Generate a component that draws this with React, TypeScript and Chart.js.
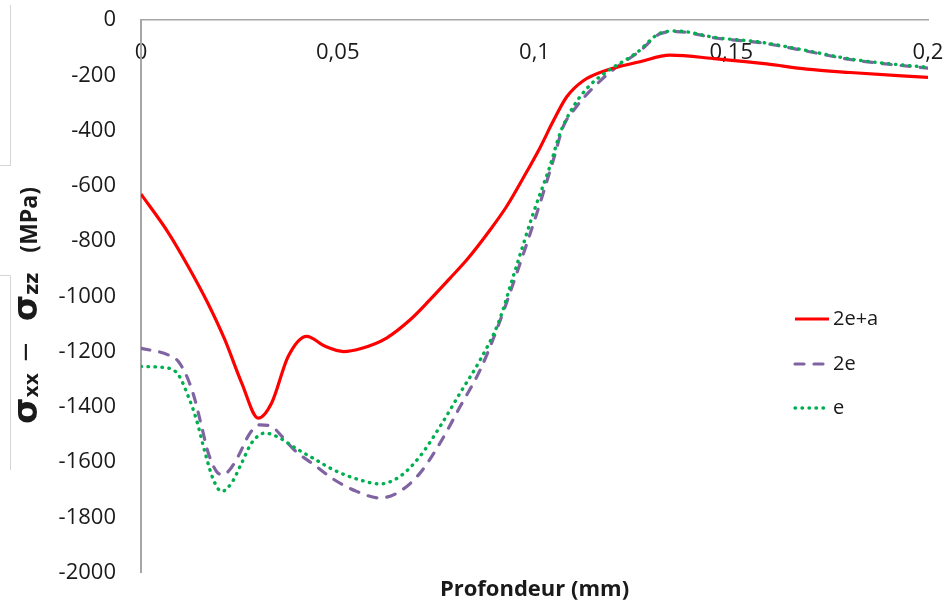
import React, { useEffect, useRef } from 'react';
import { Chart, registerables } from 'chart.js';

Chart.register(...registerables);

// ---- Data ----
const seriesNames = ['2e+a', '2e', 'e'];

const depth2ea = [0, 0.007, 0.012, 0.017, 0.0213, 0.0256, 0.0298, 0.0332, 0.0374, 0.0421, 0.0468, 0.0515, 0.0557, 0.0624, 0.0684, 0.0734, 0.0785, 0.0828, 0.0887, 0.0929, 0.0972, 0.1014, 0.1048, 0.1082, 0.1124, 0.1183, 0.1268, 0.1344, 0.1463, 0.159, 0.1692, 0.1802, 0.2];
const stress2ea = [-630, -771, -892, -1025, -1157, -1314, -1441, -1386, -1218, -1145, -1181, -1200, -1190, -1151, -1085, -1013, -935, -868, -760, -675, -570, -462, -365, -278, -220, -182, -151, -127, -141, -159, -178, -190, -208];

const depth2e = [0, 0.0069, 0.0095, 0.012, 0.0137, 0.0154, 0.0171, 0.0192, 0.0209, 0.0226, 0.0247, 0.0277, 0.0302, 0.0332, 0.0358, 0.0391, 0.0442, 0.0489, 0.0548, 0.0607, 0.0658, 0.0709, 0.076, 0.0811, 0.0862, 0.0904, 0.0955, 0.1006, 0.1048, 0.1073, 0.1107, 0.1149, 0.12, 0.1268, 0.1319, 0.1361, 0.1463, 0.1573, 0.1675, 0.1802, 0.1886, 0.2];
const stress2e = [-1188, -1212, -1236, -1302, -1374, -1471, -1567, -1634, -1646, -1627, -1579, -1495, -1465, -1471, -1507, -1558, -1612, -1662, -1706, -1730, -1706, -1640, -1531, -1399, -1266, -1121, -916, -699, -506, -386, -313, -245, -180, -112, -50, -42, -66, -82, -108, -143, -158, -174];

const depthE = [0, 0.0069, 0.0095, 0.012, 0.0141, 0.0163, 0.0184, 0.0205, 0.023, 0.0256, 0.0281, 0.0315, 0.0349, 0.0391, 0.0442, 0.0489, 0.0557, 0.0607, 0.0658, 0.0709, 0.076, 0.0811, 0.0862, 0.0908, 0.0946, 0.0997, 0.1039, 0.1065, 0.1099, 0.1141, 0.1183, 0.126, 0.1319, 0.1361, 0.1463, 0.1573, 0.1675, 0.1802, 0.1886, 0.2];
const stressE = [-1254, -1260, -1284, -1362, -1447, -1567, -1664, -1706, -1676, -1603, -1531, -1495, -1510, -1548, -1590, -1628, -1665, -1679, -1652, -1579, -1471, -1350, -1230, -1097, -928, -699, -530, -410, -313, -236, -188, -118, -48, -40, -64, -80, -106, -141, -156, -171];

const xMin = 0;
const xMax = 0.2;
const xStep = 0.05;
const yMin = -2000;
const yMax = 0;
const yStep = 200;

const xTitle = 'Profondeur (mm)';

const COLORS = ['#ff0000', '#8064a2', '#00b050'];
const FONT = '"Open Sans", "Liberation Sans", sans-serif';
const TEXT = '#1a1a1a';

const toPoints = (xs: number[], ys: number[]) => xs.map((x, i) => ({ x, y: ys[i] }));

export default function App() {
  const ref = useRef<HTMLCanvasElement>(null);

  useEffect(() => {
    const canvas = ref.current;
    if (!canvas) return;

    const yTitlePlugin = {
      id: 'yTitleSub',
      afterDraw(chart: any) {
        const ctx: CanvasRenderingContext2D = chart.ctx;
        ctx.save();
        // faint cell borders seen in the reference
        ctx.strokeStyle = '#d4d4d4';
        ctx.lineWidth = 1;
        ctx.beginPath();
        ctx.moveTo(10.5, 5);
        ctx.lineTo(10.5, 165.5);
        ctx.lineTo(0, 165.5);
        ctx.moveTo(0, 275.5);
        ctx.lineTo(10.5, 275.5);
        ctx.lineTo(10.5, 470);
        ctx.stroke();

        ctx.fillStyle = TEXT;
        ctx.textBaseline = 'alphabetic';
        ctx.textAlign = 'left';
        const baseX = 37;
        ctx.translate(baseX, 0);
        ctx.rotate(-Math.PI / 2);
        const segs = [
          { t: 'σ', f: 'bold 34px "DejaVu Sans"', dy: 0, gap: 0 },
          { t: 'xx', f: 'bold 19px "DejaVu Sans"', dy: 1, gap: 0 },
          { t: '−', f: '26px "DejaVu Sans"', dy: -3, gap: 10 },
          { t: 'σ', f: 'bold 34px "DejaVu Sans"', dy: 0, gap: 20 },
          { t: 'zz', f: 'bold 19px "DejaVu Sans"', dy: 1, gap: 0 },
          { t: '(MPa)', f: 'bold 23px ' + FONT, dy: 0, gap: 20 },
        ];
        let pos = -424;
        for (const s of segs) {
          ctx.font = s.f;
          pos += s.gap;
          ctx.fillText(s.t, pos, s.dy);
          pos += ctx.measureText(s.t).width;
        }
        ctx.restore();
      },
    };

    const legendPlugin = {
      id: 'customLegend',
      afterDraw(chart: any) {
        const ctx: CanvasRenderingContext2D = chart.ctx;
        const ys = [319, 364, 408];
        const dashes = [[], [9, 10], [0.5, 6.5]];
        const widths = [3.2, 3.2, 3.4];
        ctx.save();
        seriesNames.forEach((name, i) => {
          ctx.beginPath();
          ctx.strokeStyle = COLORS[i];
          ctx.lineWidth = widths[i];
          ctx.lineCap = i === 0 ? 'butt' : 'round';
          ctx.setLineDash(dashes[i]);
          ctx.moveTo(795, ys[i]);
          ctx.lineTo(829, ys[i]);
          ctx.stroke();
          ctx.setLineDash([]);
          ctx.fillStyle = TEXT;
          ctx.font = '20px ' + FONT;
          ctx.textAlign = 'left';
          ctx.textBaseline = 'middle';
          ctx.fillText(name, 833, ys[i]);
        });
        ctx.restore();
      },
    };

    const chart = new Chart(canvas, {
      type: 'line',
      data: {
        datasets: [
          {
            label: seriesNames[0],
            data: toPoints(depth2ea, stress2ea),
            borderColor: COLORS[0],
            borderWidth: 3.2,
            cubicInterpolationMode: 'monotone',
            order: 1,
          },
          {
            label: seriesNames[1],
            data: toPoints(depth2e, stress2e),
            borderColor: COLORS[1],
            borderWidth: 3.2,
            borderDash: [9, 10],
            borderCapStyle: 'round',
            cubicInterpolationMode: 'monotone',
            order: 2,
          },
          {
            label: seriesNames[2],
            data: toPoints(depthE, stressE),
            borderColor: COLORS[2],
            borderWidth: 3.4,
            borderDash: [0.5, 6.5],
            borderCapStyle: 'round',
            cubicInterpolationMode: 'monotone',
            order: 0,
          },
        ] as any,
      },
      options: {
        responsive: false,
        animation: false,
        devicePixelRatio: 1,
        layout: { padding: { left: 0, right: 21, top: 20, bottom: 0 } },
        elements: { point: { radius: 0, hoverRadius: 0 }, line: { fill: false } },
        plugins: {
          legend: { display: false },
          tooltip: { enabled: false },
          title: {
            display: true,
            position: 'bottom',
            fullSize: false,
            text: xTitle,
            color: TEXT,
            font: { family: FONT, size: 22, weight: 'bold', lineHeight: 1.2 },
            padding: { top: 4, bottom: 3 },
          },
        },
        scales: {
          x: {
            type: 'linear',
            position: { y: 0 } as any,
            min: xMin,
            max: xMax,
            ticks: {
              stepSize: xStep,
              autoSkip: false,
              maxRotation: 0,
              padding: 20,
              color: TEXT,
              font: { family: FONT, size: 22 },
              callback: (v: any) => String(Number(Number(v).toFixed(2))).replace('.', ','),
            },
            grid: { display: false, drawTicks: false },
            border: { display: true, color: '#a6a6a6', width: 1.5 },
            afterFit: (s: any) => {
              s.height = 0;
              s.paddingLeft = 0;
              s.paddingRight = 0;
            },
          },
          y: {
            type: 'linear',
            min: yMin,
            max: yMax,
            ticks: {
              stepSize: yStep,
              padding: 25,
              color: TEXT,
              font: { family: FONT, size: 22 },
              callback: (v: any) => String(v),
            },
            grid: { display: false, drawTicks: false },
            border: { display: true, color: '#a6a6a6', width: 2 },
            afterFit: (s: any) => {
              s.width = 141;
              s.paddingTop = 0;
              s.paddingBottom = 0;
            },
          },
        },
      } as any,
      plugins: [yTitlePlugin, legendPlugin],
    });

    return () => chart.destroy();
  }, []);

  return (
    <div style={{ position: 'fixed', left: 0, top: 0, width: 949, height: 606, background: '#fff' }}>
      <canvas ref={ref} width={949} height={606} style={{ display: 'block' }} />
    </div>
  );
}
